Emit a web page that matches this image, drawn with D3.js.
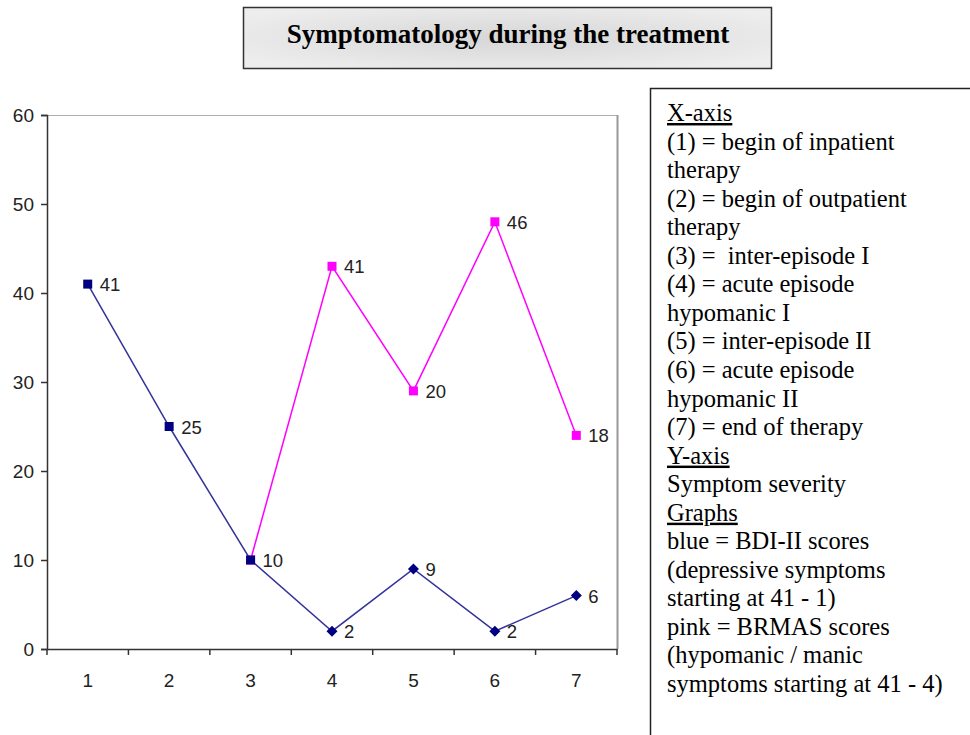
<!DOCTYPE html>
<head>
  <meta charset="utf-8">
  <script src="https://d3js.org/d3.v7.min.js"></script>
  <style>
    body { margin: 0; background: #fff; }
  </style>
</head>
<body>
<svg width="970" height="735"></svg>
<script>
// chart values
var categories = [1, 2, 3, 4, 5, 6, 7];
var blueValues = [41, 25, 10, 2, 9, 2, 6];
var blueLabels = ["41", "25", "10", "2", "9", "2", "6"];
var pinkCategories = [3, 4, 5, 6, 7];
var pinkValues = [10, 43, 29, 48, 24];
var pinkLabels = [null, "41", "20", "46", "18"];
var yTicks = [0, 10, 20, 30, 40, 50, 60];
var titleText = "Symptomatology during the treatment";
var notes = [
  {t: "X-axis", u: true},
  {t: "(1) = begin of inpatient"},
  {t: "therapy"},
  {t: "(2) = begin of outpatient"},
  {t: "therapy"},
  {t: "(3) =\u00a0 inter-episode I"},
  {t: "(4) = acute episode"},
  {t: "hypomanic I"},
  {t: "(5) = inter-episode II"},
  {t: "(6) = acute episode"},
  {t: "hypomanic II"},
  {t: "(7) = end of therapy"},
  {t: "Y-axis", u: true},
  {t: "Symptom severity"},
  {t: "Graphs", u: true},
  {t: "blue = BDI-II scores"},
  {t: "(depressive symptoms"},
  {t: "starting at 41 - 1)"},
  {t: "pink = BRMAS scores"},
  {t: "(hypomanic / manic"},
  {t: "symptoms starting at 41 - 4)"}
];

var svg = d3.select("svg");
var blueLine = "#333399", blueMark = "#000080", pink = "#ff00ff";
var serif = "'Liberation Serif', 'Times New Roman', serif";
var sans = "'Liberation Sans', Arial, sans-serif";

// title box with soft gray gradient
var defs = svg.append("defs");
var grad = defs.append("radialGradient").attr("id", "tg")
  .attr("cx", "50%").attr("cy", "50%").attr("r", "60%");
grad.append("stop").attr("offset", "0%").attr("stop-color", "#d6d6d6");
grad.append("stop").attr("offset", "100%").attr("stop-color", "#ededed");

svg.append("rect")
  .attr("x", 243.5).attr("y", 7.5).attr("width", 528).attr("height", 61)
  .attr("fill", "url(#tg)").attr("stroke", "#333").attr("stroke-width", 1.5);
svg.append("text")
  .attr("x", 508).attr("y", 43)
  .attr("text-anchor", "middle")
  .style("font-family", serif)
  .style("font-weight", "bold").style("font-size", "27px")
  .text(titleText);

// notes box on the right
svg.append("path")
  .attr("d", "M650.5,740 V88.5 H975")
  .attr("fill", "none").attr("stroke", "#222").attr("stroke-width", 1.5);
svg.append("g").selectAll("text").data(notes).enter().append("text")
  .attr("x", 667)
  .attr("y", function(d, i) { return 121 + i * 28.55; })
  .style("font-family", serif)
  .style("font-size", "24.5px")
  .attr("fill", "#000")
  .attr("text-decoration", function(d) { return d.u ? "underline" : null; })
  .text(function(d) { return d.t; });

// plot
var pLeft = 47, pRight = 617, pTop = 115, pBottom = 649;
var x = d3.scaleBand().domain(categories).range([pLeft, pRight]);
var y = d3.scaleLinear().domain([0, 60]).range([pBottom, pTop]);
var cx = function(c) { return x(c) + x.bandwidth() / 2; };

// plot frame: light top, gray right edge
svg.append("line").attr("x1", pLeft).attr("x2", pRight).attr("y1", pTop + 0.5).attr("y2", pTop + 0.5)
  .attr("stroke", "#b0b0b0").attr("stroke-width", 1);
svg.append("line").attr("x1", pRight + 0.5).attr("x2", pRight + 0.5).attr("y1", pTop).attr("y2", pBottom)
  .attr("stroke", "#999").attr("stroke-width", 2);

var yAxis = svg.append("g").attr("transform", "translate(" + pLeft + ",0)")
  .call(d3.axisLeft(y).tickValues(yTicks).tickSize(6).tickPadding(7));
var xAxis = svg.append("g").attr("transform", "translate(0," + pBottom + ")")
  .call(d3.axisBottom(x).tickSize(0).tickPadding(25));
// x ticks sit on the band edges
xAxis.selectAll(".edge").data(d3.range(categories.length + 1)).enter().append("line")
  .attr("x1", function(i) { return pLeft + i * x.step(); })
  .attr("x2", function(i) { return pLeft + i * x.step(); })
  .attr("y1", 0).attr("y2", 6).attr("stroke", "#333").attr("stroke-width", 1.5);

[yAxis, xAxis].forEach(function(a) {
  a.select(".domain").attr("stroke", "#333").attr("stroke-width", 1.5);
  a.selectAll(".tick line").attr("stroke", "#333").attr("stroke-width", 1.5);
  a.selectAll("text").style("font-family", sans)
    .style("font-size", "19px").attr("fill", "#222");
});

// series lines
var line = d3.line().x(function(d) { return cx(d[0]); }).y(function(d) { return y(d[1]); });
var blueData = categories.map(function(c, i) { return [c, blueValues[i], blueLabels[i]]; });
var pinkData = pinkCategories.map(function(c, i) { return [c, pinkValues[i], pinkLabels[i]]; });

svg.append("path").datum(pinkData).attr("d", line)
  .attr("fill", "none").attr("stroke", pink).attr("stroke-width", 1.5);
svg.append("path").datum(blueData).attr("d", line)
  .attr("fill", "none").attr("stroke", blueLine).attr("stroke-width", 1.5);

// markers
svg.selectAll(".pm").data(pinkData).enter().append("rect")
  .attr("x", function(d) { return cx(d[0]) - 4.5; })
  .attr("y", function(d) { return y(d[1]) - 4.5; })
  .attr("width", 9).attr("height", 9).attr("fill", pink);
svg.selectAll(".bm").data(blueData).enter().append("path")
  .attr("transform", function(d) { return "translate(" + cx(d[0]) + "," + y(d[1]) + ")"; })
  .attr("d", function(d, i) {
    return i < 3 ? "M-4.5,-4.5H4.5V4.5H-4.5Z" : "M0,-5.5L5.5,0L0,5.5L-5.5,0Z";
  })
  .attr("fill", blueMark);

// data labels
var allLabels = blueData.concat(pinkData).filter(function(d) { return d[2]; });
svg.selectAll(".lbl").data(allLabels).enter().append("text")
  .attr("x", function(d) { return cx(d[0]) + 12; })
  .attr("y", function(d) { return y(d[1]) + 7; })
  .style("font-family", sans)
  .style("font-size", "18.5px").attr("fill", "#222")
  .text(function(d) { return d[2]; });
</script>
</body>
</html>
